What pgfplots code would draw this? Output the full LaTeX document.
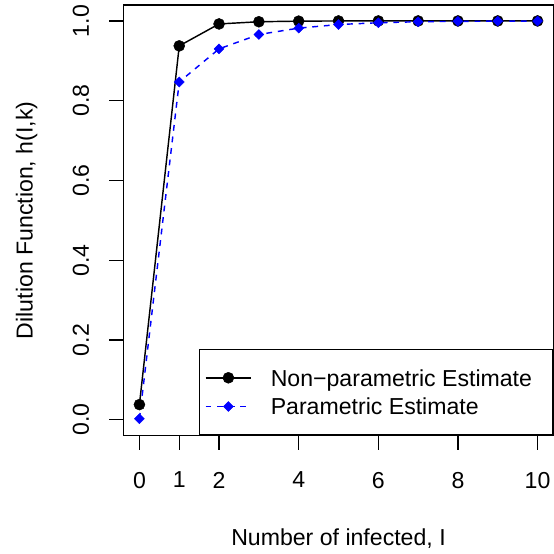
\documentclass[border=0pt]{standalone}
\usepackage{fontspec}
\setmainfont{Liberation Sans}
\usepackage{pgfplots}
\pgfplotsset{compat=1.18}
\definecolor{rblue}{RGB}{0,0,255}
\newcommand\rfont{\fontsize{23.1bp}{27.7bp}\selectfont}

\begin{document}
\begin{tikzpicture}
\useasboundingbox (0,0) rectangle (554bp,554bp);
\begin{axis}[
  at={(123.5bp,118.3bp)}, anchor=south west,
  scale only axis, width=430bp, height=430.7bp,
  xmin=-0.4, xmax=10.4, ymin=-0.04, ymax=1.04,
  axis line style={line width=1.44bp},
  every tick/.style={black, line width=1.44bp},
  tick align=outside, major tick length=14bp,
  xtick pos=left, ytick pos=left,
  xtick={0,1,2,4,6,8,10}, ytick={0,0.2,0.4,0.6,0.8,1},
  /pgf/number format/assume math mode=true,
  ticklabel style={font=\rfont, inner sep=0pt},
  xticklabel style={anchor=north, yshift=-22bp},
  yticklabel style={xshift=-20.2bp, rotate=90, anchor=south,
    /pgf/number format/.cd, fixed, fixed zerofill, precision=1},
  xlabel={Number of infected, I},
  xlabel style={at={(axis description cs:0.5,-0.2538)}, anchor=base,
    inner sep=0pt, font=\rfont},
  ylabel={Dilution Function, h(I,k)},
  ylabel style={at={(axis description cs:-0.2116,0.5)}, anchor=base,
    inner sep=0pt, font=\rfont},
  legend cell align=left,
  legend style={at={(1,0)}, anchor=south east, draw=black, fill=white,
    line width=1.44bp, inner xsep=5.3bp, inner ysep=14.15bp,
    row sep=0pt, column sep=0pt, font=\rfont,
    nodes={inner sep=0pt, text height=16.5bp, text depth=0pt}},
  legend image code/.code={
    \path[draw=none, fill=none] (0bp,-14.35bp) rectangle (45.7bp,14.35bp);
    \draw[mark repeat=2, mark phase=2, #1]
      plot coordinates {(0bp,0bp) (22.85bp,0bp) (45.7bp,0bp)};
  },
]
% non-parametric estimate of the dilution function
\addplot[black, line width=1.44bp, mark=*, mark size=5.5bp,
  mark options={solid, fill=black, line width=0.5bp}]
  coordinates {
    (0,0.038) (1,0.9375) (2,0.9925) (3,0.998) (4,0.9995) (5,1)
    (6,1) (7,1) (8,1) (9,1) (10,1)
  };
\addlegendentry{\makebox[295.5bp][l]{\hspace*{18.8bp}Non−parametric Estimate}}
% parametric estimate
\addplot[rblue, line width=1.44bp, dash pattern=on 5.8bp off 5.8bp,
  mark=square*, mark size=3.5bp,
  mark options={solid, rotate=45, fill=rblue, line width=0.5bp}]
  coordinates {
    (0,0.0025) (1,0.847) (2,0.930) (3,0.966) (4,0.982) (5,0.991)
    (6,0.9955) (7,0.998) (8,0.999) (9,0.9995) (10,0.9998)
  };
\addlegendentry{\makebox[295.5bp][l]{\hspace*{18.8bp}Parametric Estimate}}
\end{axis}
\end{tikzpicture}
\end{document}
